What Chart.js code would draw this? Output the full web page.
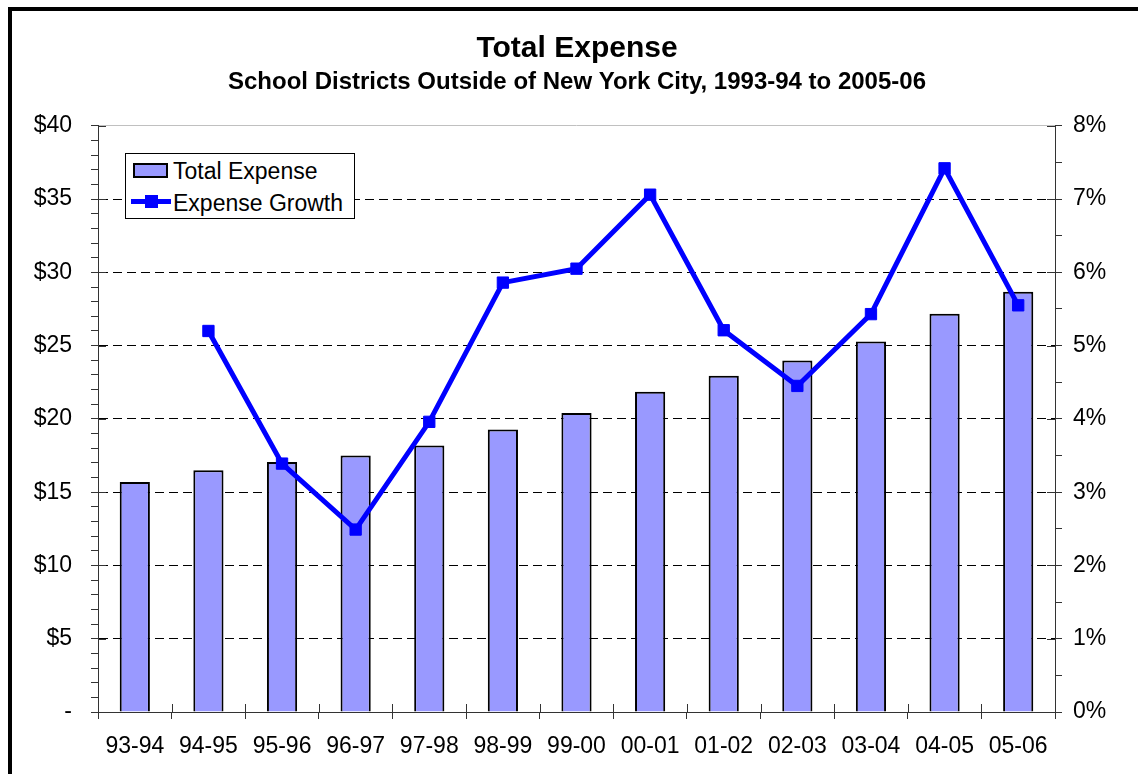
<!DOCTYPE html>
<html>
<head>
<meta charset="utf-8">
<title>Total Expense</title>
<script src="https://cdn.jsdelivr.net/npm/chart.js@4"></script>
<style>
    html, body { margin: 0; padding: 0; background: #fff; overflow: hidden; }
    #frame { position: absolute; left: 8px; top: 7px; width: 1200px; height: 820px; border: 4px solid #000; }
    #myChart { position: absolute; left: 0; top: 0; }
    #legendBox { position: absolute; left: 125px; top: 153px; width: 230px; height: 66px; box-sizing: border-box;
        border: 1px solid #000; background: #fff; font-family: "Liberation Sans", Arial, sans-serif; font-size: 23px; color: #000; }
    #legendBox span { position: absolute; left: 47px; line-height: 23px; white-space: nowrap; }
    .barSwatch { position: absolute; left: 7px; top: 9px; width: 35px; height: 15px; box-sizing: border-box; background: #9999ff; border: 2px solid #000; }
    .lineSwatch { position: absolute; left: 5px; top: 45px; width: 40px; height: 5px; background: #0000ff; }
    .markSwatch { position: absolute; left: 19px; top: 41px; width: 13px; height: 13px; background: #0000ff; }
</style>
</head>
<body>
<div id="frame"></div>
<canvas id="myChart" width="1138" height="774"></canvas>
<div id="legendBox">
    <div class="barSwatch"></div><span style="top: 6px;">Total Expense</span>
    <div class="lineSwatch"></div><div class="markSwatch"></div><span style="top: 38px;">Expense Growth</span>
</div>
<script>
// data
const years = ['93-94', '94-95', '95-96', '96-97', '97-98', '98-99', '99-00', '00-01', '01-02', '02-03', '03-04', '04-05', '05-06'];
const totalExpense = [15.7, 16.5, 17.06, 17.5, 18.18, 19.27, 20.4, 21.86, 22.95, 23.98, 25.28, 27.17, 28.67];
const expenseGrowth = [null, 5.20, 3.39, 2.49, 3.96, 5.86, 6.05, 7.06, 5.21, 4.45, 5.43, 7.42, 5.55];

const fontFamily = '"Liberation Sans", Arial, sans-serif';
const axisColor = '#333333';

// the major ticks cross the axis line, chart.js only draws them outside
const crossTicks = {
    id: 'crossTicks',
    afterDraw(chart) {
        const ctx = chart.ctx;
        const y = chart.scales.y;
        const y1 = chart.scales.y1;
        const x = chart.scales.x;
        ctx.save();
        ctx.strokeStyle = axisColor;
        ctx.lineWidth = 1;
        ctx.beginPath();
        for (let v = 0; v <= 40; v += 5) {
            const py = Math.round(y.getPixelForValue(v)) + 0.5;
            ctx.moveTo(y.right, py);
            ctx.lineTo(y.right + 8, py);
        }
        for (let v = 0; v <= 8; v++) {
            const py = Math.round(y1.getPixelForValue(v)) + 0.5;
            ctx.moveTo(y1.left - 8, py);
            ctx.lineTo(y1.left, py);
        }
        for (let i = 0; i <= years.length; i++) {
            const px = Math.round(x.left + i * x.width / years.length) + 0.5;
            ctx.moveTo(px, x.top - 8);
            ctx.lineTo(px, x.top);
        }
        ctx.stroke();
        ctx.restore();
    }
};

const ctx = document.getElementById('myChart').getContext('2d');
const myChart = new Chart(ctx, {
    type: 'bar',
    data: {
        labels: years,
        datasets: [
            {
                type: 'line',
                label: 'Expense Growth',
                data: expenseGrowth,
                yAxisID: 'y1',
                borderColor: '#0000ff',
                backgroundColor: '#0000ff',
                borderWidth: 5,
                pointStyle: 'rect',
                pointRadius: 8,
                pointBorderWidth: 1,
                pointBackgroundColor: '#0000ff',
                pointBorderColor: '#0000ff',
                fill: false,
                tension: 0,
                order: 0
            },
            {
                type: 'bar',
                label: 'Total Expense',
                data: totalExpense,
                yAxisID: 'y',
                backgroundColor: '#9999ff',
                borderColor: '#000000',
                borderWidth: 2,
                barPercentage: 0.41,
                categoryPercentage: 1,
                order: 1
            }
        ]
    },
    options: {
        responsive: false,
        animation: false,
        layout: {
            padding: { left: 20, right: 4, top: 10, bottom: 4 }
        },
        plugins: {
            legend: { display: false },
            tooltip: { enabled: false },
            title: {
                display: true,
                text: 'Total Expense',
                color: '#000',
                font: { family: fontFamily, size: 30, weight: 'bold', lineHeight: 1.2 },
                padding: { top: 21, bottom: 0 }
            },
            subtitle: {
                display: true,
                text: 'School Districts Outside of New York City, 1993-94 to 2005-06',
                color: '#000',
                font: { family: fontFamily, size: 24, weight: 'bold', lineHeight: 1.2 },
                padding: { top: 1, bottom: 29 }
            }
        },
        scales: {
            x: {
                offset: true,
                grid: {
                    offset: true,
                    drawOnChartArea: false,
                    tickLength: 7,
                    tickColor: axisColor
                },
                border: { display: true, color: axisColor, width: 1 },
                ticks: {
                    color: '#000',
                    font: { family: fontFamily, size: 23 },
                    padding: 14,
                    maxRotation: 0,
                    autoSkip: false
                },
                afterFit(scale) { scale.height = 58; }
            },
            y: {
                position: 'left',
                min: 0,
                max: 40,
                grid: {
                    color: (c) => (c.tick && c.tick.value % 5 === 0 && c.tick.value > 0 && c.tick.value < 40) ? '#000' : 'rgba(0,0,0,0)',
                    tickColor: axisColor,
                    tickLength: 7,
                    lineWidth: 1
                },
                border: { display: true, color: axisColor, width: 1, dash: [9, 5] },
                ticks: {
                    stepSize: 1,
                    maxTicksLimit: 100,
                    autoSkip: false,
                    padding: 19,
                    color: '#000',
                    font: { family: fontFamily, size: 23 },
                    callback: (v) => v % 5 === 0 ? (v === 0 ? '-' : '$' + v) : ''
                },
                afterFit(scale) { scale.width = 78; }
            },
            y1: {
                position: 'right',
                min: 0,
                max: 8,
                grid: {
                    drawOnChartArea: true,
                    color: (c) => (c.tick && c.tick.value === 8) ? '#c0c0c0' : 'rgba(0,0,0,0)',
                    tickColor: axisColor,
                    tickLength: 7,
                    lineWidth: 1
                },
                border: { display: true, color: axisColor, width: 1 },
                ticks: {
                    stepSize: 0.5,
                    maxTicksLimit: 100,
                    autoSkip: false,
                    padding: 11,
                    color: '#000',
                    font: { family: fontFamily, size: 23 },
                    callback: (v) => Number.isInteger(v) ? v + '%' : ''
                },
                afterFit(scale) { scale.width = 79; }
            }
        }
    },
    plugins: [crossTicks]
});
</script>
</body>
</html>
